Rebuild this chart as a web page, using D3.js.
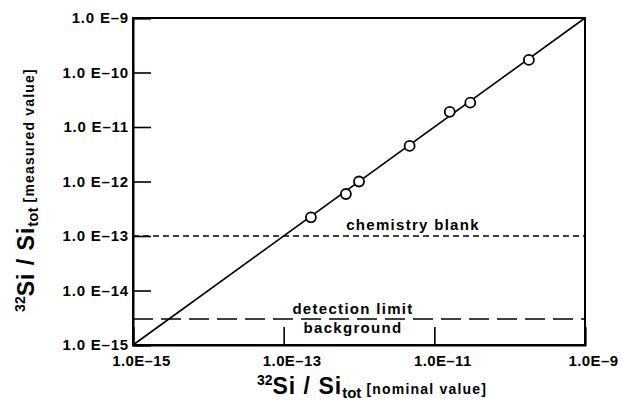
<!DOCTYPE html>
<html>
<head>
<meta charset="utf-8">
<script src="https://cdn.jsdelivr.net/npm/d3@7"></script>
<style>
  body { margin: 0; background: #fff; }
  text { font-family: "Liberation Sans", Arial, sans-serif; font-weight: bold; fill: #000; }
</style>
</head>
<body>
<script>
// measured points (nominal vs measured 32Si/Si ratio)
var nominal  = [2.3e-13, 6.7e-13, 1.0e-12, 4.7e-12, 1.6e-11, 3.0e-11, 1.8e-10];
var measured = [2.2e-13, 5.9e-13, 1.0e-12, 4.5e-12, 1.9e-11, 2.8e-11, 1.7e-10];

var yTicks = [1e-15, 1e-14, 1e-13, 1e-12, 1e-11, 1e-10, 1e-9];
var yTickLabels = ["1.0 E\u201315", "1.0 E\u201314", "1.0 E\u201313", "1.0 E\u201312", "1.0 E\u201311", "1.0 E\u201310", "1.0 E\u20139"];
var xTicks = [1e-15, 1e-13, 1e-11, 1e-9];
var xTickLabels = ["1.0E\u201315", "1.0E\u201313", "1.0E\u201311", "1.0E\u20139"];

var chemBlank = 1e-13;      // chemistry blank level
var detLimit = 3e-15;       // detection limit / background
var domain = [1e-15, 1e-9];

var w = 621, h = 403;
var svg = d3.select("body").append("svg")
    .attr("width", w)
    .attr("height", h);

var x = d3.scaleLog().domain(domain).range([133, 585]);
var y = d3.scaleLog().domain(domain).range([345, 18]);

// frame
svg.append("rect")
    .attr("x", x(domain[0])).attr("y", y(domain[1]))
    .attr("width", x(domain[1]) - x(domain[0]))
    .attr("height", y(domain[0]) - y(domain[1]))
    .attr("fill", "none").attr("stroke", "#000").attr("stroke-width", 2);

// axes, ticks pointing inward
var yAxis = d3.axisLeft(y)
    .tickValues(yTicks)
    .tickSize(-18)
    .tickPadding(4)
    .tickFormat(function(d, i){ return yTickLabels[i]; });

svg.append("g")
    .attr("transform", "translate(" + x(domain[0]) + ",0)")
    .call(yAxis)
    .call(function(g){
        g.select(".domain").attr("stroke-width", 2);
        g.selectAll(".tick line").attr("stroke-width", 1.6);
        g.selectAll("text")
            .attr("font-size", "15px")
            .attr("font-family", "Liberation Sans, Arial, sans-serif")
            .attr("font-weight", "bold")
            .attr("letter-spacing", "0.8px");
    });

var xAxis = d3.axisBottom(x)
    .tickValues(xTicks)
    .tickSize(-18)
    .tickPadding(10)
    .tickFormat(function(d, i){ return xTickLabels[i]; });

svg.append("g")
    .attr("transform", "translate(0," + y(domain[0]) + ")")
    .call(xAxis)
    .call(function(g){
        g.select(".domain").attr("stroke-width", 2);
        g.selectAll(".tick line").attr("stroke-width", 1.6);
        g.selectAll("text")
            .attr("dx", 8)
            .attr("font-size", "15px")
            .attr("font-family", "Liberation Sans, Arial, sans-serif")
            .attr("font-weight", "bold")
            .attr("letter-spacing", "0.4px");
    });

// 1:1 line
svg.append("line")
    .attr("x1", x(domain[0])).attr("y1", y(domain[0]))
    .attr("x2", x(domain[1])).attr("y2", y(domain[1]))
    .attr("stroke", "#000").attr("stroke-width", 1.6);

// chemistry blank
svg.append("line")
    .attr("x1", x(domain[0])).attr("x2", x(domain[1]))
    .attr("y1", y(chemBlank)).attr("y2", y(chemBlank))
    .attr("stroke", "#000").attr("stroke-width", 1.6)
    .attr("stroke-dasharray", "6,4");

svg.append("text")
    .attr("x", 413).attr("y", y(chemBlank) - 6)
    .attr("text-anchor", "middle")
    .attr("font-size", "15px")
    .attr("letter-spacing", "1.3px")
    .text("chemistry blank");

// detection limit
svg.append("line")
    .attr("x1", x(domain[0])).attr("x2", x(domain[1]))
    .attr("y1", y(detLimit)).attr("y2", y(detLimit))
    .attr("stroke", "#000").attr("stroke-width", 1.6)
    .attr("stroke-dasharray", "20,8");

svg.append("text")
    .attr("x", 353).attr("y", y(detLimit) - 5)
    .attr("text-anchor", "middle")
    .attr("font-size", "15px")
    .attr("letter-spacing", "1.3px")
    .text("detection limit");

svg.append("text")
    .attr("x", 353).attr("y", y(detLimit) + 14)
    .attr("text-anchor", "middle")
    .attr("font-size", "15px")
    .attr("letter-spacing", "1.3px")
    .text("background");

// points
svg.selectAll("circle")
    .data(nominal)
    .enter()
    .append("circle")
    .attr("cx", function(d){ return x(d); })
    .attr("cy", function(d, i){ return y(measured[i]); })
    .attr("r", 5)
    .attr("fill", "#fff")
    .attr("stroke", "#000")
    .attr("stroke-width", 1.8);

// axis titles
function title(sel, label) {
    sel.append("tspan").attr("font-size", "14px").attr("dy", -9).text("32");
    sel.append("tspan").attr("font-size", "23px").attr("dy", 9).attr("letter-spacing", "1px").text("Si / Si");
    sel.append("tspan").attr("font-size", "15px").attr("dy", 4).text("tot");
    sel.append("tspan").attr("font-size", "14px").attr("dy", -4).attr("letter-spacing", "1.2px").text(" [" + label + "]");
}

svg.append("text")
    .attr("x", 372).attr("y", 394)
    .attr("text-anchor", "middle")
    .call(title, "nominal value");

svg.append("text")
    .attr("transform", "translate(34,190) rotate(-90)")
    .attr("text-anchor", "middle")
    .call(title, "measured value");
</script>
</body>
</html>
